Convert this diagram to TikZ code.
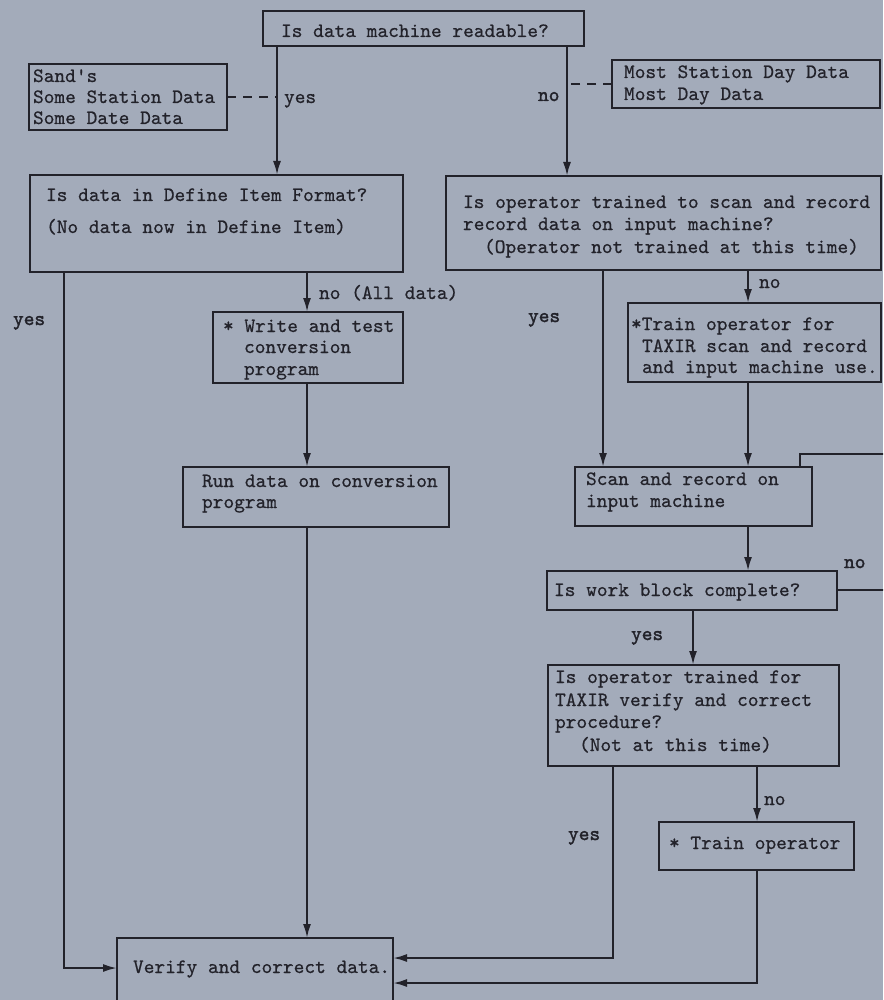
\documentclass[tikz,border=0pt]{standalone}
\usepackage{fontspec}
\usetikzlibrary{arrows.meta}
\newfontfamily\typer[FakeBold=0.6]{lmmono10-regular.otf}
\newfontfamily\typerbold[FakeBold=1.8]{lmmono10-regular.otf}
\definecolor{paper}{RGB}{163,171,186}
\definecolor{ink}{RGB}{34,34,42}
\begin{document}
\begin{tikzpicture}[x=1pt,y=-1pt,
  line width=2.1pt, draw=ink,
  box/.style={draw=ink, rectangle, inner sep=0pt, outer sep=0pt, anchor=north west},
  txt/.style={text=ink, inner sep=0pt, anchor=base west,
    font=\typer\fontsize{20.4}{21}\selectfont},
  lab/.style={txt, font=\typerbold\fontsize{20.4}{21}\selectfont},
  arr/.style={-{Latex[length=14pt,width=8pt]}},
  link/.style={dashed, dash pattern=on 9pt off 7pt}]

% page and background
\useasboundingbox (0,0) rectangle (883,1000);
\fill[paper] (0,0) rectangle (883,1000);
\clip (0,0) rectangle (883,1000);

% boxes
\node[box, minimum width=321, minimum height=35] (q1) at (263,11) {};
\node[box, minimum width=198, minimum height=66] (sand) at (29,64) {};
\node[box, minimum width=268, minimum height=48] (most) at (612,60) {};
\node[box, minimum width=373, minimum height=97] (q4) at (30,175) {};
\node[box, minimum width=190, minimum height=71] (write) at (213,312) {};
\node[box, minimum width=266, minimum height=60] (run) at (183,467) {};
\node[box, minimum width=276, minimum height=80] (ver) at (117,938) {};
\node[box, minimum width=435, minimum height=94] (q10) at (446,176) {};
\node[box, minimum width=253, minimum height=79] (train1) at (628,303) {};
\node[box, minimum width=237, minimum height=59] (scan) at (575,467) {};
\node[box, minimum width=290, minimum height=39] (work) at (547,571) {};
\node[box, minimum width=291, minimum height=101] (q19) at (548,665) {};
\node[box, minimum width=195, minimum height=48] (train2) at (659,822) {};

% box texts
\node[txt] (q1a) at (280,37) {Is data machine readable?};
\node[txt] (sa) at (32,82) {Sand's};
\node[txt] (sb) at (32,103) {Some Station Data};
\node[txt] (sc) at (32,124) {Some Date Data};
\node[txt] (ma) at (623,78) {Most Station Day Data};
\node[txt] (mb) at (623,100) {Most Day Data};
\node[txt] (q4a) at (45,201) {Is data in Define Item Format?};
\node[txt] (q4b) at (45,233) {(No data now in Define Item)};
\node[txt] (wa) at (222,332) {* Write and test};
\node[txt] (wb) at (243,353) {conversion};
\node[txt] (wc) at (243,375) {program};
\node[txt] (ra) at (201,487) {Run data on conversion};
\node[txt] (rb) at (201,508) {program};
\node[txt] (va) at (132,973) {Verify and correct data.};
\node[txt] (q10a) at (462,208) {Is operator trained to scan and record};
\node[txt] (q10b) at (462,230) {record data on input machine?};
\node[txt] (q10c) at (483,253) {(Operator not trained at this time)};
\node[txt] (ta) at (630,330) {*Train operator for};
\node[txt] (tb) at (641,352) {TAXIR scan and record};
\node[txt] (tc) at (641,373) {and input machine use.};
\node[txt] (sca) at (585,485) {Scan and record on};
\node[txt] (scb) at (585,507) {input machine};
\node[txt] (wka) at (553,596) {Is work block complete?};
\node[txt] (q19a) at (554,683) {Is operator trained for};
\node[txt] (q19b) at (554,706) {TAXIR verify and correct};
\node[txt] (q19c) at (554,728) {procedure?};
\node[txt] (q19d) at (578,751) {(Not at this time)};
\node[txt] (t2a) at (668,849) {* Train operator};

% branch labels
\node[txt] (l1) at (283,103) {yes};
\node[lab] (l2) at (537,101) {no};
\node[txt] (l3) at (318,299) {no (All data)};
\node[lab] (l4) at (12,325) {yes};
\node[lab] (l5) at (527,322) {yes};
\node[txt] (l6) at (758,288) {no};
\node[lab] (l7) at (843,568) {no};
\node[lab] (l8) at (630,640) {yes};
\node[lab] (l9) at (567,840) {yes};
\node[txt] (l10) at (763,805) {no};

% connector positions
\coordinate (xA) at (277,0);
\coordinate (xB) at (567,0);
\coordinate (xC) at (307,0);
\coordinate (xD) at (64,0);
\coordinate (xE) at (603,0);
\coordinate (xF) at (748,0);
\coordinate (xG) at (800,0);
\coordinate (xH) at (693,0);
\coordinate (xI) at (613,0);
\coordinate (xJ) at (757,0);
\coordinate (yV1) at (0,968);
\coordinate (yV2) at (0,958);
\coordinate (yV3) at (0,983);
\coordinate (yM) at (0,84);
\coordinate (yW) at (0,590);
\coordinate (loopR) at (892,454);

% connectors
\draw[arr] (q1.south -| xA) -- (q4.north -| xA);
\draw[link] (sand.east) -- (sand.east -| xA);
\draw[arr] (q1.south -| xB) -- (q10.north -| xB);
\draw[link] (most.west |- yM) -- (yM -| xB);

\draw[arr] (q4.south -| xC) -- (write.north -| xC);
\draw[arr] (write.south -| xC) -- (run.north -| xC);
\draw[arr] (run.south -| xC) -- (ver.north -| xC);
\draw[arr] (q4.south -| xD) |- (ver.west |- yV1);

\draw[arr] (q10.south -| xE) -- (scan.north -| xE);
\draw[arr] (q10.south -| xF) -- (train1.north -| xF);
\draw[arr] (train1.south -| xF) -- (scan.north -| xF);
\draw[arr] (scan.south -| xF) -- (work.north -| xF);
\draw (work.east |- yW) -| (loopR) -| (scan.north -| xG);

\draw[arr] (work.south -| xH) -- (q19.north -| xH);
\draw[arr] (q19.south -| xI) |- (ver.east |- yV2);
\draw[arr] (q19.south -| xJ) -- (train2.north -| xJ);
\draw[arr] (train2.south -| xJ) |- (ver.east |- yV3);
\end{tikzpicture}
\end{document}
